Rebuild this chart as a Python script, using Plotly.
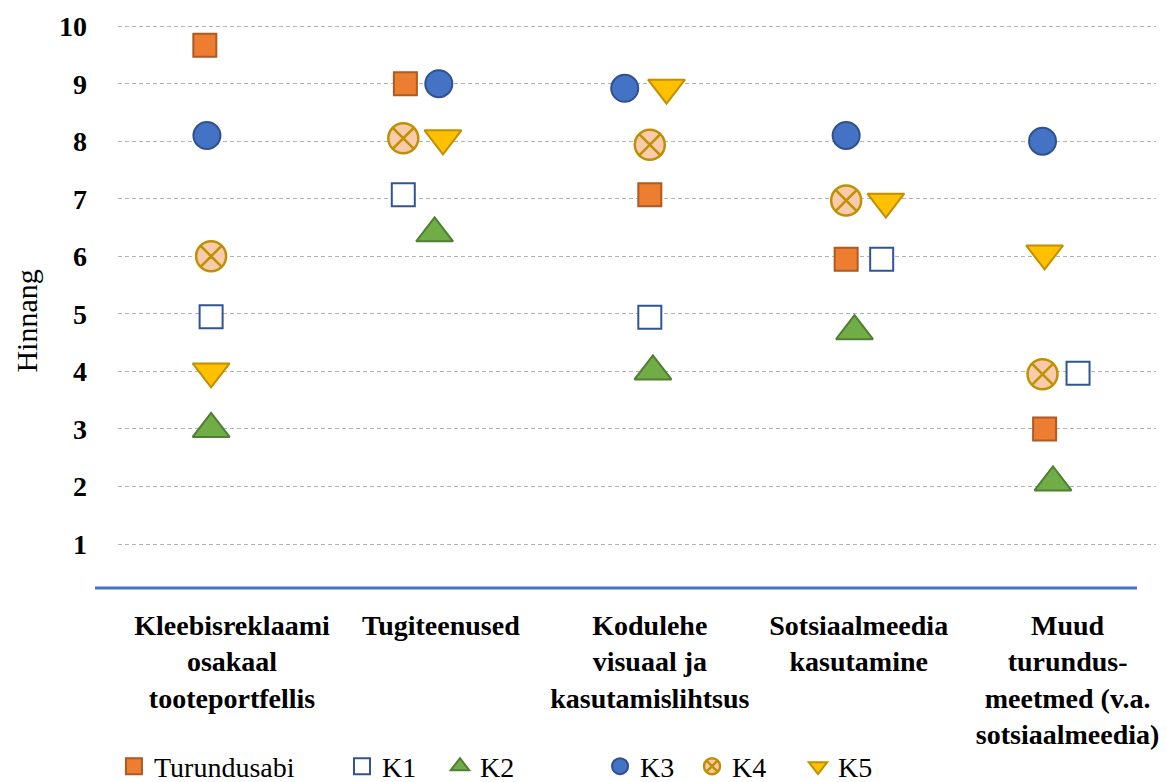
import plotly.graph_objects as go

# Category axis labels (multi-line, centred under each group)
categories = [
    "Kleebisreklaami<br>osakaal<br>tooteportfellis",
    "Tugiteenused",
    "Kodulehe<br>visuaal ja<br>kasutamislihtsus",
    "Sotsiaalmeedia<br>kasutamine",
    "Muud<br>turundus-<br>meetmed (v.a.<br>sotsiaalmeedia)",
]
cat_pos = [1, 2, 3, 4, 5]

# Ratings per series
turundusabi = [9.67, 9.0, 7.07, 5.95, 3.0]
k1 = [4.95, 7.07, 4.94, 5.95, 3.97]
k2 = [3.0, 6.4, 4.0, 4.7, 2.07]
k3 = [8.1, 9.0, 8.92, 8.1, 8.0]
k4 = [6.0, 8.05, 7.94, 6.97, 3.95]
k5 = [4.0, 8.05, 8.93, 6.95, 6.05]

# Horizontal placement of each point inside its category group
off_turundusabi = [-0.13, -0.17, 0.0, -0.06, -0.11]
off_k1 = [-0.10, -0.18, 0.0, 0.11, 0.05]
off_k2 = [-0.10, -0.03, 0.015, -0.02, -0.07]
off_k3 = [-0.12, -0.01, -0.12, -0.06, -0.12]
off_k4 = [-0.10, -0.18, 0.0, -0.06, -0.12]
off_k5 = [-0.10, 0.01, 0.08, 0.13, -0.11]

FONT = "Times New Roman, Liberation Serif, serif"

series = [
    ("Turundusabi", turundusabi, off_turundusabi,
     dict(symbol="square", size=23, color="#ED7D31", line=dict(color="#AE5A21", width=2))),
    ("K1", k1, off_k1,
     dict(symbol="square", size=23, color="#FFFFFF", line=dict(color="#2F5597", width=2))),
    ("K2", k2, off_k2,
     dict(symbol="triangle-up", size=32, color="#70AD47", line=dict(color="#507E32", width=2))),
    ("K3", k3, off_k3,
     dict(symbol="circle", size=27, color="#4472C4", line=dict(color="#2F528F", width=2))),
    ("K4", k4, off_k4,
     dict(symbol="circle-x", size=30, color="#F8CBAD", line=dict(color="#BF9000", width=2.5))),
    ("K5", k5, off_k5,
     dict(symbol="triangle-down", size=32, color="#FFC000", line=dict(color="#BF9000", width=2))),
]

# Each series gets its own legend box so the entries can be spaced along the bottom row
legend_x = [-0.0039, 0.2158, 0.3102, 0.4644, 0.5530, 0.6551]

fig = go.Figure()
legend_layout = {}
for i, (name, vals, offs, marker) in enumerate(series):
    legend_id = "legend" if i == 0 else f"legend{i + 1}"
    fig.add_trace(go.Scatter(
        x=[c + o for c, o in zip(cat_pos, offs)],
        y=vals,
        mode="markers",
        name=name,
        marker=marker,
        cliponaxis=False,
        legend=legend_id,
    ))
    legend_layout[legend_id] = dict(
        orientation="h",
        x=legend_x[i], xanchor="left",
        y=-0.317, yanchor="middle",
        font=dict(family=FONT, size=28, color="black"),
        itemsizing="trace",
        bgcolor="rgba(0,0,0,0)",
    )

fig.update_layout(
    width=1166,
    height=782,
    margin=dict(l=118, r=10, t=25, b=194, autoexpand=False),
    paper_bgcolor="white",
    plot_bgcolor="white",
    font=dict(family=FONT, color="black"),
    showlegend=True,
    xaxis=dict(
        range=[0.4543, 5.4232],
        tickvals=cat_pos,
        ticktext=categories,
        tickfont=dict(family=FONT, size=28, color="black", weight="bold"),
        showgrid=False,
        zeroline=False,
        showline=False,
        ticks="",
        ticklabelstandoff=18,
        automargin=False,
    ),
    yaxis=dict(
        range=[0.236, 10.02],
        tickvals=list(range(1, 11)),
        tickfont=dict(family=FONT, size=28, color="black", weight="bold"),
        showgrid=True,
        gridcolor="#B3B3B3",
        gridwidth=1,
        griddash="4px,3px",
        zeroline=False,
        showline=False,
        ticks="",
        ticklabelstandoff=30,
        automargin=False,
    ),
    annotations=[
        dict(text="Hinnang", textangle=-90, showarrow=False,
             xref="paper", yref="paper", x=-0.0877, y=0.475,
             xanchor="center", yanchor="middle",
             font=dict(family=FONT, size=30, color="black")),
    ],
    shapes=[
        dict(type="line", xref="paper", yref="paper",
             x0=-0.0222, x1=0.9817, y0=0, y1=0,
             line=dict(color="#4472C4", width=3)),
    ],
    **legend_layout,
)

fig.write_html("out.html")
